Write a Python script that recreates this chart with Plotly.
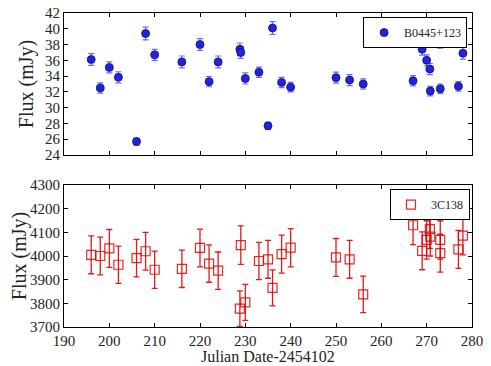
import plotly.graph_objects as go

# B0445+123 (top panel)
t_b = [196, 198, 200, 202, 206, 208, 210, 216, 220, 222, 224, 228.8, 229, 230,
       233, 235, 236, 238, 240, 250, 253, 256, 267, 269, 270, 270.7, 270.8,
       273, 273, 277, 278]
flux_b = [36.1, 32.5, 35.1, 33.85, 25.7, 39.4, 36.7, 35.8, 38.0, 33.3, 35.8, 37.4,
          37.0, 33.7, 34.5, 27.7, 40.1, 33.2, 32.6, 33.8, 33.5, 33.0, 33.4, 37.4,
          36.0, 34.9, 32.1, 38.3, 32.4, 32.7, 36.9]
err_b = [0.75, 0.65, 0.7, 0.7, 0.45, 0.8, 0.7, 0.75, 0.75, 0.65, 0.75, 0.8,
         0.75, 0.7, 0.65, 0.45, 0.8, 0.65, 0.6, 0.7, 0.7, 0.65, 0.65, 0.75,
         0.7, 0.7, 0.6, 0.75, 0.6, 0.6, 0.75]

# 3C138 (bottom panel)
t_c = [196, 198, 200, 202, 206, 208, 210, 216, 220, 222, 224, 228.8, 229, 230,
       233, 235, 236, 238, 240, 250, 253, 256, 267, 269, 270, 270.7, 270.8,
       273, 273, 277, 278]
flux_c = [4005, 4000, 4032, 3963, 3991, 4020, 3942, 3946, 4034, 3968, 3938, 3778,
          4046, 3804, 3979, 3986, 3865, 4008, 4035, 3994, 3986, 3838, 4130, 4022,
          4068, 4114, 4082, 4068, 4012, 4028, 4086]
err_c = [80, 80, 80, 79, 79, 80, 79, 79, 80, 79, 79, 75,
         81, 76, 79, 80, 76, 80, 81, 80, 80, 77, 82, 80,
         81, 82, 82, 81, 80, 80, 81]

fig = go.Figure()

fig.add_trace(go.Scatter(
    x=t_b, y=flux_b, mode="markers", name="B0445+123",
    marker=dict(symbol="circle", size=8, color="#2222e6",
                line=dict(color="#101060", width=0.8)),
    error_y=dict(type="data", array=err_b, color="rgba(60,60,240,0.75)",
                 thickness=1.2, width=3),
    xaxis="x", yaxis="y", legend="legend",
))

fig.add_trace(go.Scatter(
    x=t_c, y=flux_c, mode="markers", name="3C138",
    marker=dict(symbol="square-open", size=9, color="rgba(230,0,0,0.85)",
                line=dict(width=1.2)),
    error_y=dict(type="data", array=err_c, color="rgba(225,0,0,0.9)",
                 thickness=1.3, width=3),
    xaxis="x2", yaxis="y2", legend="legend2",
))

font_s = "Liberation Serif, Times New Roman, serif"
ax_common = dict(showline=True, linecolor="black", linewidth=1, mirror="ticks",
                 ticks="inside", ticklen=4, tickcolor="black", showgrid=False,
                 zeroline=False, tickfont=dict(size=15), automargin=False,
                 ticklabeloverflow="allow")

# the page body adds an 8px offset, so the figure is a bit smaller than the window
fig.update_layout(
    width=483, height=358,
    margin=dict(l=56, r=19, t=5, b=39),
    plot_bgcolor="white", paper_bgcolor="white",
    font=dict(family=font_s, size=16.5, color="#222222"),
    xaxis=dict(domain=[0, 1], range=[190, 280], dtick=10, tick0=190,
               showticklabels=False, anchor="y", **ax_common),
    yaxis=dict(domain=[0.5478, 1], range=[24, 42], dtick=2, tick0=24,
               title=dict(text="Flux (mJy)", standoff=5), anchor="x", **ax_common),
    xaxis2=dict(domain=[0, 1], range=[190, 280], dtick=10, tick0=190,
                anchor="y2", **ax_common),
    yaxis2=dict(domain=[0, 0.4522], range=[3700, 4300], dtick=100, tick0=3700,
                title=dict(text="Flux (mJy)", standoff=3), anchor="x2", **ax_common),
    legend=dict(x=0.988, y=0.987, xanchor="right", yanchor="top",
                bgcolor="white", bordercolor="black", borderwidth=1,
                font=dict(size=12, family=font_s), itemwidth=30,
                tracegroupgap=0),
    legend2=dict(x=0.995, y=0.439, xanchor="right", yanchor="top",
                 bgcolor="white", bordercolor="black", borderwidth=1,
                 font=dict(size=12, family=font_s), itemwidth=30,
                 tracegroupgap=0),
    showlegend=True,
)

# x-axis title as annotation so it sits inside the bottom margin
fig.add_annotation(text="Julian Date-2454102", xref="paper", yref="paper",
                   x=0.5, y=-0.124, xanchor="center", yanchor="bottom",
                   yshift=-1, showarrow=False,
                   font=dict(family=font_s, size=16, color="#222222"))

fig.write_html("out.html")
